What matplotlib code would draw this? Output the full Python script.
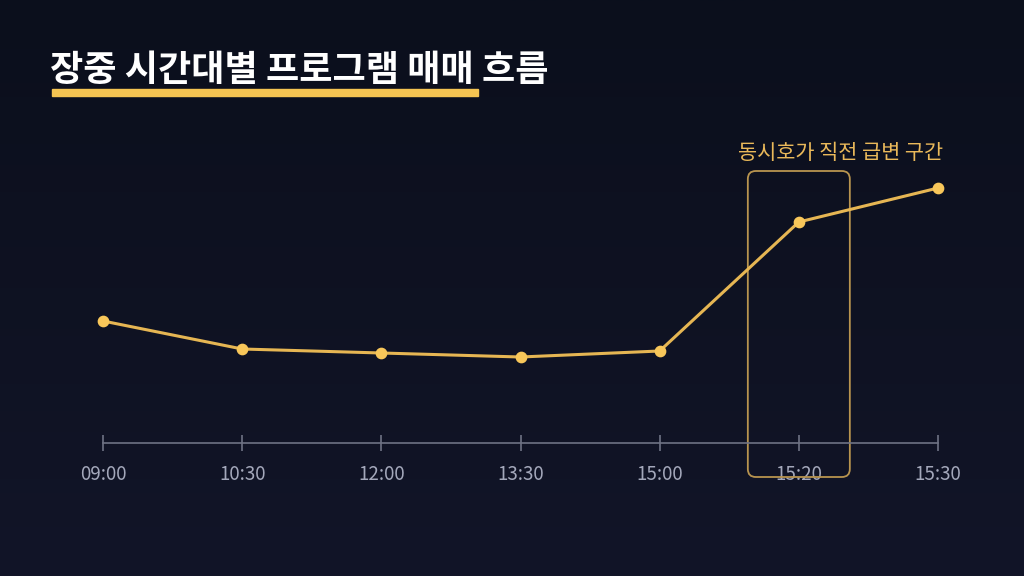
import numpy as np
import matplotlib.pyplot as plt
from matplotlib.patches import FancyBboxPatch

plt.rcParams['font.family'] = ['Noto Sans CJK KR', 'DejaVu Sans']

# data
times = ["09:00", "10:30", "12:00", "13:30", "15:00", "15:20", "15:30"]
flow = [122, 94, 90, 86, 92, 221, 255]
title = "장중 시간대별 프로그램 매매 흐름"
note = "동시호가 직전 급변 구간"
hi_idx = 5

W, H = 1024, 576
fig = plt.figure(figsize=(W / 100, H / 100), dpi=100)

# background gradient
bg = fig.add_axes([0, 0, 1, 1])
grad = np.linspace(0, 1, 256).reshape(-1, 1)
top = np.array([0x0b, 0x0f, 0x1c]) / 255
bot = np.array([0x12, 0x15, 0x28]) / 255
img = top + (bot - top) * grad[:, :, None]
bg.imshow(img, aspect='auto', extent=[0, 1, 0, 1])
bg.axis('off')

# title + underline
fig.text(50 / W, 1 - 71 / H, title, color='white', fontsize=26, fontweight='bold',
         va='center', ha='left')
bg.add_patch(plt.Rectangle((52 / W, 1 - 96 / H), (478 - 52) / W, 7 / H,
                           color='#f5c452', transform=fig.transFigure))

# main axes: x 103..938 px, y baseline 443 px, top 143 px
ax = fig.add_axes([103 / W, 1 - 443 / H, (938 - 103) / W, 300 / H])
ax.set_facecolor('none')
x = np.arange(len(times))
ax.plot(x, flow, color='#e6b653', lw=2.2, zorder=3, clip_on=False)
ax.scatter(x, flow, s=55, color='#f8c75a', zorder=4, clip_on=False)
ax.set_xlim(0, len(times) - 1)
ax.set_ylim(0, 300)

for s in ['top', 'right', 'left']:
    ax.spines[s].set_visible(False)
ax.spines['bottom'].set_color('#6e7284')
ax.spines['bottom'].set_linewidth(1.2)
ax.set_yticks([])
ax.set_xticks(x)
ax.set_xticklabels(times)
ax.tick_params(axis='x', direction='inout', length=12, width=1.2, color='#6e7284',
               labelcolor='#a4a8bb', labelsize=13.5, pad=9)

# highlight box around 15:20
px = (938 - 103) / (len(times) - 1)
bx0 = hi_idx - 51 / px
bw = 102 / px
rs = 8 / px
box = FancyBboxPatch((bx0, -34), bw, 306,
                     boxstyle=f"round,pad=0,rounding_size={rs}",
                     fill=False, ec='#b8944f', lw=1.3, clip_on=False, zorder=2)
box.set_mutation_aspect(8 / rs)
ax.add_patch(box)
ax.text(hi_idx + 42 / px, 290, note, color='#eab95a', fontsize=15,
        ha='center', va='center', clip_on=False)

fig.savefig('out.png', dpi=100, facecolor='#0b0f1c')
